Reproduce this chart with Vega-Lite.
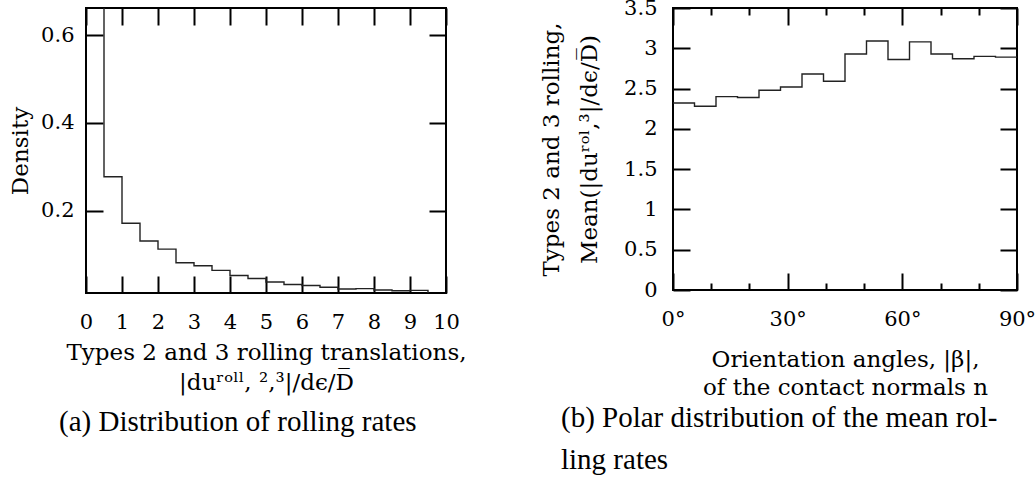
{
  "$schema": "https://vega.github.io/schema/vega-lite/v6.json",
  "background": "white",
  "padding": {"left": 8, "top": -4, "right": 5, "bottom": 5},
  "spacing": 72,
  "config": {
    "view": {"stroke": "#000", "strokeWidth": 2},
    "axis": {
      "domain": false, "grid": false, "tickColor": "#000", "tickWidth": 2,
      "labelFont": "DejaVu Serif", "labelFontSize": 21, "labelColor": "#000",
      "labelFlush": false, "labelOverlap": false,
      "titleFont": "DejaVu Serif", "titleFontSize": 23, "titleFontWeight": "normal", "titleColor": "#000"
    },
    "title": {"font": "Liberation Serif", "fontSize": 29, "fontWeight": "normal", "color": "#000"}
  },
  "hconcat": [
    {
      "width": 360, "height": 285,
      "title": {"text": "(a) Distribution of rolling rates", "orient": "bottom", "anchor": "start", "frame": "group", "dx": -27, "offset": 14},
      "data": {"values": [
        {"rate": 0.0, "density": 0.77},
        {"rate": 0.5, "density": 0.277},
        {"rate": 1.0, "density": 0.171},
        {"rate": 1.5, "density": 0.1305},
        {"rate": 2.0, "density": 0.112},
        {"rate": 2.5, "density": 0.081},
        {"rate": 3.0, "density": 0.074},
        {"rate": 3.5, "density": 0.0635},
        {"rate": 4.0, "density": 0.052},
        {"rate": 4.5, "density": 0.045},
        {"rate": 5.0, "density": 0.037},
        {"rate": 5.5, "density": 0.0315},
        {"rate": 6.0, "density": 0.029},
        {"rate": 6.5, "density": 0.025},
        {"rate": 7.0, "density": 0.021},
        {"rate": 7.5, "density": 0.022},
        {"rate": 8.0, "density": 0.019},
        {"rate": 8.5, "density": 0.017},
        {"rate": 9.0, "density": 0.018},
        {"rate": 9.5, "density": 0.0}
      ]},
      "layer": [
        {
          "mark": {"type": "line", "interpolate": "step-after", "clip": true, "color": "#222", "strokeWidth": 1.4},
          "encoding": {
            "x": {"field": "rate", "type": "quantitative",
              "scale": {"domain": [0, 10], "nice": false, "zero": false},
              "axis": {"orient": "bottom", "values": [0,1,2,3,4,5,6,7,8,9,10], "tickSize": -17, "labelPadding": 35,
                "title": ["Types 2 and 3 rolling translations,", "|duʳᵒˡˡ, ²,³|/dϵ/D̅"], "titlePadding": 9, "titleLineHeight": 30}},
            "y": {"field": "density", "type": "quantitative",
              "scale": {"domain": [0.012, 0.662], "nice": false, "zero": false},
              "axis": {"orient": "left", "values": [0.2, 0.4, 0.6], "format": "~g", "tickSize": -17, "labelPadding": 29,
                "title": "Density", "titlePadding": 8}}
          }
        },
        {
          "mark": {"type": "line", "strokeOpacity": 0, "clip": true},
          "encoding": {
            "x": {"field": "rate", "type": "quantitative",
              "scale": {"domain": [0, 10], "nice": false, "zero": false},
              "axis": {"orient": "top", "values": [0,1,2,3,4,5,6,7,8,9,10], "tickSize": -17, "labels": false, "title": null}},
            "y": {"field": "density", "type": "quantitative",
              "scale": {"domain": [0.012, 0.662], "nice": false, "zero": false},
              "axis": {"orient": "right", "values": [0.2, 0.4, 0.6], "tickSize": -17, "labels": false, "title": null}}
          }
        }
      ],
      "resolve": {"axis": {"x": "independent", "y": "independent"}}
    },
    {
      "width": 344, "height": 282,
      "title": {"text": ["(b) Polar distribution of the mean rol-", "ling rates"], "orient": "bottom", "anchor": "start", "frame": "group", "dx": -112, "offset": 5, "lineHeight": 42},
      "data": {"values": [
        {"angle": 0.0, "mean": 2.32},
        {"angle": 5.625, "mean": 2.28},
        {"angle": 11.25, "mean": 2.40},
        {"angle": 16.875, "mean": 2.39},
        {"angle": 22.5, "mean": 2.48},
        {"angle": 28.125, "mean": 2.52},
        {"angle": 33.75, "mean": 2.68},
        {"angle": 39.375, "mean": 2.59},
        {"angle": 45.0, "mean": 2.93},
        {"angle": 50.625, "mean": 3.09},
        {"angle": 56.25, "mean": 2.86},
        {"angle": 61.875, "mean": 3.08},
        {"angle": 67.5, "mean": 2.93},
        {"angle": 73.125, "mean": 2.87},
        {"angle": 78.75, "mean": 2.90},
        {"angle": 84.375, "mean": 2.89},
        {"angle": 90.0, "mean": 2.89}
      ]},
      "layer": [
        {
          "mark": {"type": "line", "interpolate": "step-after", "clip": true, "color": "#222", "strokeWidth": 1.4},
          "encoding": {
            "x": {"field": "angle", "type": "quantitative",
              "scale": {"domain": [0, 90], "nice": false, "zero": false},
              "axis": {"orient": "bottom", "values": [0, 30, 60, 90], "labelExpr": "datum.value + '°'", "tickSize": -17, "labelPadding": 35,
                "title": ["Orientation angles, |β|,", "of the contact normals n"], "titlePadding": 19, "titleLineHeight": 28}},
            "y": {"field": "mean", "type": "quantitative",
              "scale": {"domain": [0, 3.5], "nice": false, "zero": false},
              "axis": {"orient": "left", "values": [0, 0.5, 1, 1.5, 2, 2.5, 3, 3.5], "format": "~g", "tickSize": -17, "labelPadding": 33,
                "title": ["Types 2 and 3 rolling,", "Mean(|duʳᵒˡ,³|/dϵ/D̅)"], "titlePadding": 22, "titleLineHeight": 38}}
          }
        },
        {
          "mark": {"type": "line", "strokeOpacity": 0, "clip": true},
          "encoding": {
            "x": {"field": "angle", "type": "quantitative",
              "scale": {"domain": [0, 90], "nice": false, "zero": false},
              "axis": {"orient": "top", "values": [0, 30, 60, 90], "tickSize": -17, "labels": false, "title": null}},
            "y": {"field": "mean", "type": "quantitative",
              "scale": {"domain": [0, 3.5], "nice": false, "zero": false},
              "axis": {"orient": "right", "values": [0, 0.5, 1, 1.5, 2, 2.5, 3, 3.5], "tickSize": -17, "labels": false, "title": null}}
          }
        },
        {
          "mark": {"type": "line", "strokeOpacity": 0, "clip": true},
          "encoding": {
            "x": {"field": "angle", "type": "quantitative",
              "scale": {"domain": [0, 90], "nice": false, "zero": false},
              "axis": {"orient": "bottom", "values": [10, 20, 40, 50, 70, 80], "tickSize": -7, "labels": false, "title": null}},
            "y": {"field": "mean", "type": "quantitative",
              "scale": {"domain": [0, 3.5], "nice": false, "zero": false}, "axis": null}
          }
        },
        {
          "mark": {"type": "line", "strokeOpacity": 0, "clip": true},
          "encoding": {
            "x": {"field": "angle", "type": "quantitative",
              "scale": {"domain": [0, 90], "nice": false, "zero": false},
              "axis": {"orient": "top", "values": [10, 20, 40, 50, 70, 80], "tickSize": -7, "labels": false, "title": null}},
            "y": {"field": "mean", "type": "quantitative",
              "scale": {"domain": [0, 3.5], "nice": false, "zero": false}, "axis": null}
          }
        }
      ],
      "resolve": {"axis": {"x": "independent", "y": "independent"}}
    }
  ]
}
